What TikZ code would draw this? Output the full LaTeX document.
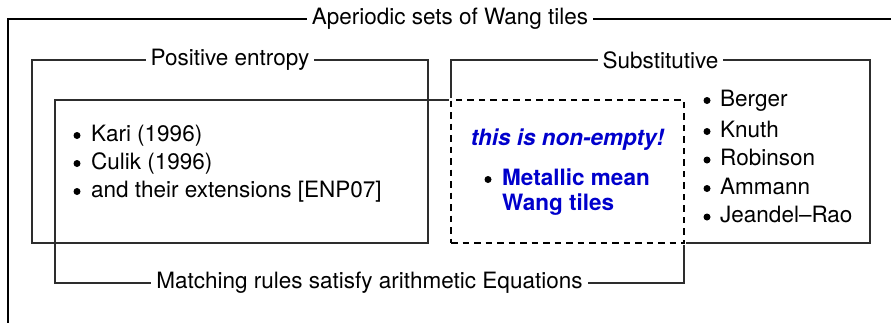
\documentclass[tikz,border=0pt]{standalone}
\usepackage{fontspec}
\setmainfont{TeX Gyre Heros}
\definecolor{tileblue}{RGB}{0,0,204}
\definecolor{linegray}{RGB}{45,45,45}
\begin{document}
\begin{tikzpicture}[x=1pt,y=-1pt,
  frame/.style={draw=linegray,line width=1.3pt,inner sep=0pt,outer sep=0pt,anchor=north west},
  lbl/.style={fill=white,inner sep=5pt,font=\fontsize{22.5}{27}\selectfont},
  txt/.style={inner sep=0pt,anchor=base west,font=\fontsize{22.5}{27}\selectfont},
  dot/.style={circle,fill=black,inner sep=0pt,minimum size=7pt,yshift=5.5pt},
  btxt/.style={inner sep=0pt,anchor=base west,text=tileblue,font=\fontsize{22.5}{27}\selectfont\bfseries},
  interbox/.style={draw=black,line width=2.5pt,dash pattern=on 6.5pt off 5pt,inner sep=0pt,outer sep=0pt,anchor=north west,
    preaction={draw=white,line width=4pt,solid}}
]
\useasboundingbox (0,0) rectangle (891,322);
\clip (0,0) rectangle (891,322);
\fill[white] (0,0) rectangle (891,322);

% boxes
\node[frame,draw=black,line width=1.5pt,minimum width=884pt,minimum height=340pt] (outer) at (8,19) {};
\node[frame,minimum width=396pt,minimum height=183pt] (posent) at (32,60) {};
\node[frame,minimum width=629pt,minimum height=183pt] (match) at (55,100) {};
\node[frame,minimum width=419pt,minimum height=183pt] (subst) at (451,60) {};
\node[interbox,minimum width=233pt,minimum height=143pt] (inter) at (451,100) {};

% box labels
\node[lbl] (outerlbl) at (outer.north) {Aperiodic sets of Wang tiles};
\node[lbl] (posentlbl) at (posent.north) {Positive entropy};
\node[lbl] (substlbl) at (subst.north) {Substitutive};
\node[lbl] (matchlbl) at (match.south) {Matching rules satisfy arithmetic Equations};

% positive entropy list
\node[dot] (pb1) at (77,141) {};
\node[txt] (p1) at (91,141) {Kari (1996)};
\node[dot] (pb2) at (77,169) {};
\node[txt] (p2) at (91,169) {Culik (1996)};
\node[dot] (pb3) at (77,197) {};
\node[txt] (p3) at (91,197) {and their extensions [ENP07]};

% substitutive list
\node[dot] (sb1) at (707,106) {};
\node[txt] (s1) at (720,106) {Berger};
\node[dot] (sb2) at (707,137) {};
\node[txt] (s2) at (720,137) {Knuth};
\node[dot] (sb3) at (707,165.5) {};
\node[txt] (s3) at (720,165.5) {Robinson};
\node[dot] (sb4) at (707,194) {};
\node[txt] (s4) at (720,194) {Ammann};
\node[dot] (sb5) at (707,222.5) {};
\node[txt] (s5) at (720,222.5) {Jeandel–Rao};

% intersection content
\node[inner sep=0pt,anchor=base,text=tileblue,font=\fontsize{22.5}{27}\selectfont\bfseries\itshape] (ne) at (567.5,145) {this is non-empty!};
\node[dot] (mb) at (488,185) {};
\node[btxt] (m1) at (502,185) {Metallic mean};
\node[btxt] (m2) at (502,210) {Wang tiles};
\end{tikzpicture}
\end{document}
